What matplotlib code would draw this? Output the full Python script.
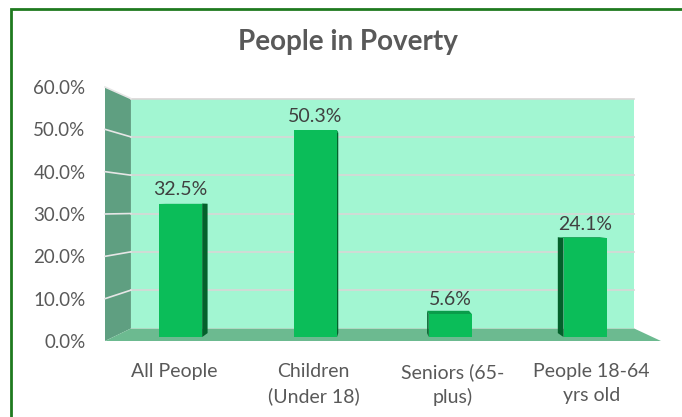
import matplotlib
matplotlib.use("Agg")
import matplotlib.pyplot as plt
from matplotlib.patches import Polygon, Rectangle

categories = ["All People", "Children\n(Under 18)", "Seniors (65-\nplus)", "People 18-64\nyrs old"]
values = [32.5, 50.3, 5.6, 24.1]
y_ticks = [0, 10, 20, 30, 40, 50, 60]
y_labels = [f"{t:.1f}%" for t in y_ticks]
value_labels = [f"{v:.1f}%" for v in values]

# fake perspective: depth z=0 is the front plane, z=1 the back wall
VANISH_X, VANISH_Y = 1.464, 31.2
BACK_SCALE = 0.905
BAR_Z = (0.316, 0.63)
BAR_W = 0.32

TEXT = "#595959"
WALL = "#a2f6d2"
SIDE_WALL = "#5f9f81"
FLOOR = "#6cba90"
GRID = "#d9d6d6"
BAR_FRONT = "#0bbd59"
BAR_SIDE = "#03612b"
BAR_TOP = "#0a9c4a"

plt.rcParams["font.family"] = ["Lato", "DejaVu Sans"]


def project(x, y, z):
    s = 1 - (1 - BACK_SCALE) * z
    return VANISH_X + (x - VANISH_X) * s, VANISH_Y + (y - VANISH_Y) * s


def face(ax, pts, color, zorder):
    ax.add_patch(Polygon([project(*p) for p in pts], closed=True, facecolor=color,
                         edgecolor="none", linewidth=0, zorder=zorder, clip_on=False))


fig = plt.figure(figsize=(6.82, 4.17), dpi=100)
fig.patch.set_facecolor("white")
ax = fig.add_axes([105 / 682, 76 / 417, 556 / 682, 254 / 417])
ax.set_xlim(-0.5, len(categories) - 0.5)
ax.set_ylim(y_ticks[0], y_ticks[-1])
ax.patch.set_visible(False)
for sp in ax.spines.values():
    sp.set_visible(False)

x0, x1 = -0.5, len(categories) - 0.5
y0, y1 = y_ticks[0], y_ticks[-1]

# walls and floor
face(ax, [(x0, y0, 1), (x1, y0, 1), (x1, y1, 1), (x0, y1, 1)], WALL, 1)
face(ax, [(x0, y0, 0), (x0, y0, 1), (x0, y1, 1), (x0, y1, 0)], SIDE_WALL, 1)
face(ax, [(x0, y0, 0), (x1, y0, 0), (x1, y0, 1), (x0, y0, 1)], FLOOR, 2)

for t in y_ticks[1:]:
    bx, by = zip(project(x0, t, 1), project(x1, t, 1))
    ax.plot(bx, by, color=GRID, lw=1.2, zorder=1.5, clip_on=False)
    sx, sy = zip(project(x0, t, 0), project(x0, t, 1))
    ax.plot(sx, sy, color="#e6e6e6", lw=1.2, zorder=1.5, clip_on=False)

# bars
zf, zb = BAR_Z
for i, v in enumerate(values):
    l, r = i - BAR_W / 2, i + BAR_W / 2
    side_x = r if i < VANISH_X else l
    face(ax, [(side_x, 0, zf), (side_x, 0, zb), (side_x, v, zb), (side_x, v, zf)], BAR_SIDE, 3)
    face(ax, [(l, v, zf), (r, v, zf), (r, v, zb), (l, v, zb)], BAR_TOP, 3)
    face(ax, [(l, 0, zf), (r, 0, zf), (r, v, zf), (l, v, zf)], BAR_FRONT, 4)
    tx, ty = project(i, v, zf)
    ax.annotate(value_labels[i], (tx, ty), xytext=(0, 4), textcoords="offset points",
                ha="center", va="bottom", fontsize=14, color="#404040", zorder=5)

ax.set_yticks(y_ticks)
ax.set_yticklabels(y_labels)
ax.set_xticks(range(len(categories)))
ax.set_xticklabels(categories, linespacing=1.45)
ax.tick_params(axis="y", length=0, pad=14, labelsize=13.5, labelcolor=TEXT)
ax.tick_params(axis="x", length=0, pad=16, labelsize=14, labelcolor=TEXT)

fig.text(0.51, 0.9, "People in Poverty", ha="center", va="center",
         fontsize=20, fontweight="bold", color=TEXT)

# chart-area border
fig.add_artist(Rectangle((11 / 682, -0.05), 1.0, 1.05 - 9 / 417, transform=fig.transFigure,
                         fill=False, edgecolor="#1f7a1f", linewidth=2))

fig.savefig("out.png", dpi=100)
